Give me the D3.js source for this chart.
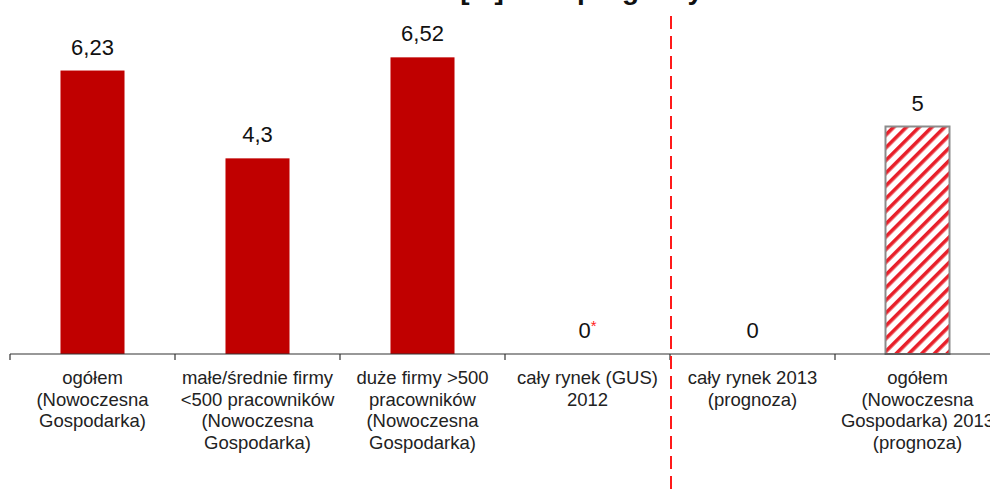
<!DOCTYPE html>
<html><head><meta charset="utf-8">
<script src="https://cdn.jsdelivr.net/npm/d3@7"></script>
<style>html,body{margin:0;padding:0;background:#fff;overflow:hidden}svg{display:block}</style>
</head><body><svg id="c" width="990" height="489"></svg>
<script>
const categories = [
  ["ogółem","(Nowoczesna","Gospodarka)"],
  ["małe/średnie firmy","<500 pracowników","(Nowoczesna","Gospodarka)"],
  ["duże firmy >500","pracowników","(Nowoczesna","Gospodarka)"],
  ["cały rynek (GUS)","2012"],
  ["cały rynek 2013","(prognoza)"],
  ["ogółem","(Nowoczesna","Gospodarka) 2013","(prognoza)"]
];
const values = [6.23, 4.3, 6.52, 0, 0, 5];
const valueLabels = ["6,23", "4,3", "6,52", "0", "0", "5"];
const footnoteMarks = ["", "", "", "*", "", ""];
const forecast = [false, false, false, false, false, true];
const titleText = "Zmiana [%] oraz prognozy";

const svg = d3.select("#c");
const font = "'Liberation Sans', Arial, sans-serif";
const baseY = 354;
const x = d3.scaleBand().domain(d3.range(categories.length)).range([10, 1000]).paddingInner(0.612).paddingOuter(0.306);
const step = x.step();
const y = d3.scaleLinear().domain([0, 7]).range([baseY, baseY - 7 * 45.5]);

// hatch pattern
const defs = svg.append("defs");
const pat = defs.append("pattern").attr("id", "hatch").attr("patternUnits", "userSpaceOnUse")
  .attr("width", 9).attr("height", 9).attr("patternTransform", "rotate(45)");
pat.append("rect").attr("width", 9).attr("height", 9).attr("fill", "#fff");
pat.append("rect").attr("x", 0).attr("width", 3.6).attr("height", 9).attr("fill", "#e8202a");

// title (cut off at top edge, as in the reference)
const title = svg.append("text").attr("x", 0).attr("y", -1)
  .attr("font-family", font).attr("font-weight", "bold").attr("font-size", 28).attr("fill", "#111")
  .text(titleText);
const pIdx = titleText.indexOf("prognozy");
const px = title.node().getStartPositionOfChar(pIdx).x;
title.attr("x", 577 - px);

// bars
svg.selectAll("rect.bar").data(values).join("rect").attr("class", "bar")
  .attr("x", (d, i) => x(i)).attr("width", x.bandwidth())
  .attr("y", d => y(d)).attr("height", d => baseY - y(d))
  .attr("fill", (d, i) => forecast[i] ? "url(#hatch)" : "#c00000")
  .attr("stroke", (d, i) => forecast[i] ? "#8c8c8c" : "none")
  .attr("stroke-width", (d, i) => forecast[i] ? 2 : 0);

// value labels
const vl = svg.selectAll("text.val").data(values).join("text").attr("class", "val")
  .attr("x", (d, i) => x(i) + x.bandwidth() / 2).attr("y", d => y(d) - 16)
  .attr("text-anchor", "middle").attr("font-family", font).attr("font-size", 22).attr("fill", "#111");
vl.each(function(d, i) {
  const t = d3.select(this);
  t.append("tspan").text(valueLabels[i]);
  if (footnoteMarks[i]) {
    t.append("tspan").attr("fill", "#ff2020").attr("font-size", 15).attr("dy", -7).text(footnoteMarks[i]);
  }
});

// axis
const axis = svg.append("g").attr("transform", `translate(0,${baseY})`);
axis.append("line").attr("x1", 10).attr("x2", 990).attr("y1", 0).attr("y2", 0).attr("stroke", "#333").attr("stroke-width", 1.2);
axis.selectAll("line.tick").data(d3.range(categories.length + 1)).join("line").attr("class", "tick")
  .attr("x1", i => 10 + i * step).attr("x2", i => 10 + i * step)
  .attr("y1", 0).attr("y2", 6).attr("stroke", "#333").attr("stroke-width", 1.2);

// category labels
svg.selectAll("text.cat").data(categories).join("text").attr("class", "cat")
  .attr("font-family", font).attr("font-size", 18.5).attr("fill", "#222").attr("text-anchor", "middle")
  .each(function(lines, i) {
    const t = d3.select(this);
    lines.forEach((ln, j) => {
      t.append("tspan").attr("x", x(i) + x.bandwidth() / 2).attr("y", 384 + j * 21.5).text(ln);
    });
  });

// separator dashed line
const sepX = 10 + 4 * step + 1;
svg.append("line").attr("x1", sepX).attr("x2", sepX).attr("y1", 16).attr("y2", 489)
  .attr("stroke", "#ff1a1a").attr("stroke-width", 2).attr("stroke-dasharray", "13,7");
</script></body></html>
